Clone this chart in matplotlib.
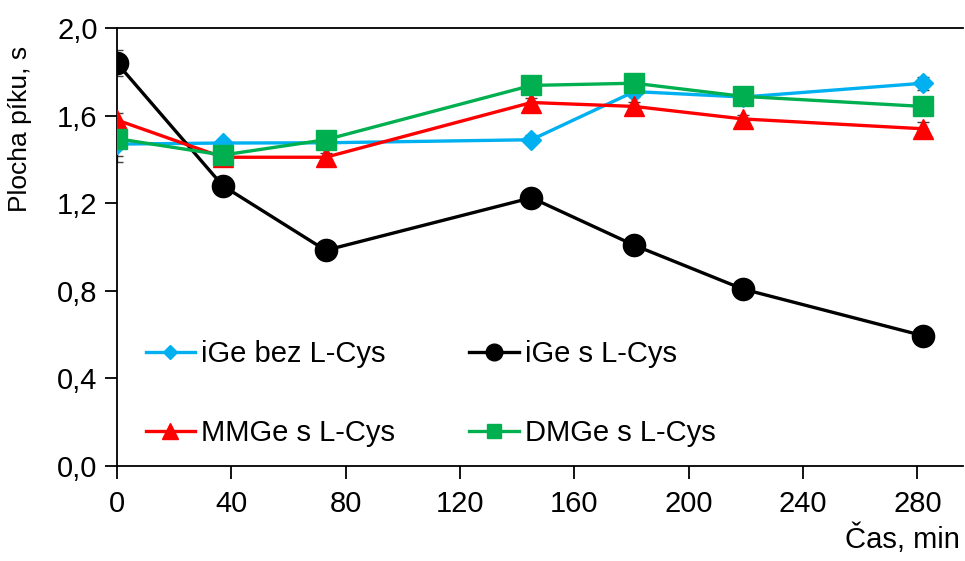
import matplotlib
matplotlib.use("Agg")
import matplotlib.pyplot as plt

plt.rcParams['font.family'] = ['Liberation Sans', 'DejaVu Sans']

time_min = [0, 37, 73, 145, 181, 219, 282]
ige_bez = [1.47, 1.475, 1.476, 1.49, 1.71, 1.685, 1.748]
ige_s = [1.84, 1.28, 0.985, 1.225, 1.008, 0.808, 0.595]
mmge_s = [1.58, 1.41, 1.41, 1.66, 1.642, 1.585, 1.54]
dmge_s = [1.495, 1.42, 1.49, 1.738, 1.748, 1.688, 1.642]

err_bez = [0.08, 0.02, 0.02, 0.02, 0.02, 0.02, 0.03]
err_s = [0.06, 0.04, 0.02, 0.02, 0.02, 0.02, 0.02]
err_mm = [0.03, 0.02, 0.02, 0.02, 0.02, 0.02, 0.03]
err_dm = [0.08, 0.03, 0.02, 0.02, 0.02, 0.02, 0.02]

labels = ["iGe bez L-Cys", "iGe s L-Cys", "MMGe s L-Cys", "DMGe s L-Cys"]
x_ticks = [0, 40, 80, 120, 160, 200, 240, 280]
y_ticks = [0.0, 0.4, 0.8, 1.2, 1.6, 2.0]
y_ticklabels = ["0,0", "0,4", "0,8", "1,2", "1,6", "2,0"]

fig = plt.figure(figsize=(9.65, 5.61), dpi=100)
ax = fig.add_axes([0.1212, 0.1693, 0.8768, 0.7807])

series = [
    (ige_bez, err_bez, "#00B0F0", "D", 10),
    (ige_s, err_s, "#000000", "o", 16),
    (mmge_s, err_mm, "#FF0000", "^", 15),
    (dmge_s, err_dm, "#00B050", "s", 14),
]
handles = []
for (vals, errs, col, mk, ms), lab in zip(series, labels):
    ax.errorbar(time_min, vals, yerr=errs, fmt='none', ecolor='#404040',
                elinewidth=1.0, capsize=4, capthick=1.0, zorder=2)
    ln, = ax.plot(time_min, vals, color=col, marker=mk, markersize=ms,
                  linewidth=2.4, markeredgecolor=col, zorder=3, label=lab)
    handles.append(ln)

ax.set_xlim(0, 296)
ax.set_ylim(0, 2.0)
ax.set_xticks(x_ticks)
ax.set_xticklabels([str(t) for t in x_ticks])
ax.set_yticks(y_ticks)
ax.set_yticklabels(y_ticklabels)
ax.tick_params(axis='both', direction='out', length=9, width=1.3,
               labelsize=21, colors='black')
ax.tick_params(axis='x', pad=8)
ax.tick_params(axis='y', pad=5)
ax.spines['right'].set_visible(False)
for s in ['left', 'bottom', 'top']:
    ax.spines[s].set_linewidth(1.3)

ax.set_ylabel("Plocha píku, s", fontsize=19)
ax.yaxis.set_label_coords(-0.100, 0.77)
fig.text(0.995, 0.012, "Čas, min", fontsize=21, ha='right', va='bottom')

order = [handles[0], handles[2], handles[1], handles[3]]
order_labels = [labels[0], labels[2], labels[1], labels[3]]
leg = ax.legend(order, order_labels, ncol=2, loc='upper left',
                bbox_to_anchor=(0.02, 0.315), frameon=False, fontsize=21,
                handlelength=1.7, handletextpad=0.2, columnspacing=2.55,
                labelspacing=1.75, borderaxespad=0, markerscale=0.75)

fig.savefig("out.png", dpi=100)
